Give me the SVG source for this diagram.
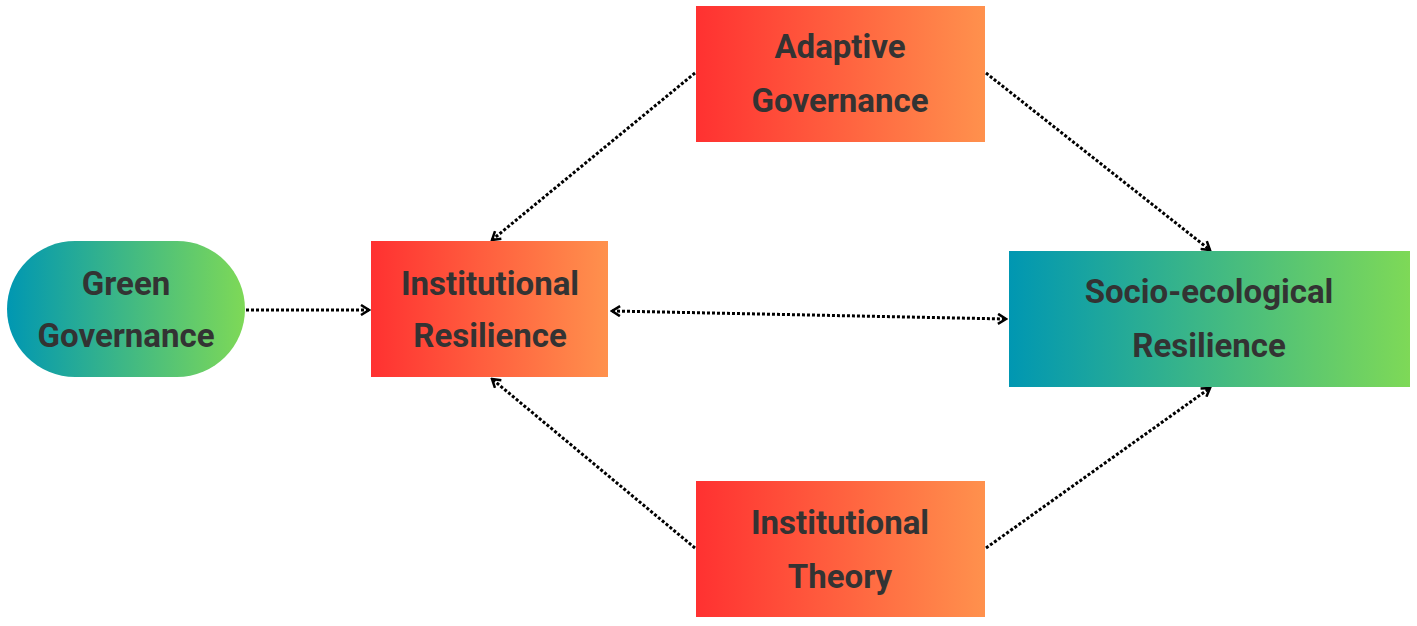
<svg xmlns="http://www.w3.org/2000/svg" width="1417" height="626" viewBox="0 0 1417 626">
<defs>
<linearGradient id="warm" x1="0" y1="0" x2="1" y2="0"><stop offset="0" stop-color="#ff3131"/><stop offset="1" stop-color="#ff914d"/></linearGradient>
<linearGradient id="cool" x1="0" y1="0" x2="1" y2="0"><stop offset="0" stop-color="#0097b2"/><stop offset="1" stop-color="#7ed957"/></linearGradient>
<marker id="ah" viewBox="0 0 12 12" refX="10" refY="6" markerWidth="12" markerHeight="12" markerUnits="userSpaceOnUse" orient="auto-start-reverse"><path d="M2,1 L10,6 L2,11" fill="none" stroke="#000" stroke-width="2.5"/></marker>
<style>
text{font-family:"Liberation Sans Narrow","Roboto","Liberation Sans",sans-serif;font-weight:bold;font-size:33px;fill:#333;text-anchor:middle}
.c{fill:none;stroke:#000;stroke-width:3;stroke-dasharray:3 2;marker-end:url(#ah)}
</style>
</defs>
<g id="connectors">
<line class="c" x1="246" y1="310" x2="369" y2="310"/>
<line class="c" x1="612" y1="311" x2="1006" y2="319" marker-start="url(#ah)"/>
<line class="c" x1="695" y1="73" x2="492" y2="240"/>
<line class="c" x1="986" y1="73" x2="1210" y2="250"/>
<line class="c" x1="695" y1="548" x2="492" y2="379"/>
<line class="c" x1="986" y1="548" x2="1210" y2="388"/>
</g>
<g id="green"><rect x="7" y="241" width="238" height="136" rx="68" fill="url(#cool)"/><text x="126" y="295">Green</text><text x="126" y="347">Governance</text></g>
<g id="instres"><rect x="371" y="241" width="237" height="136" fill="url(#warm)"/><text x="490" y="295">Institutional</text><text x="490" y="347">Resilience</text></g>
<g id="adaptive"><rect x="696" y="6" width="289" height="136" fill="url(#warm)"/><text x="840" y="58">Adaptive</text><text x="840" y="112">Governance</text></g>
<g id="socio"><rect x="1009" y="251" width="401" height="136" fill="url(#cool)"/><text x="1209" y="303">Socio-ecological</text><text x="1209" y="357">Resilience</text></g>
<g id="theory"><rect x="696" y="481" width="289" height="136" fill="url(#warm)"/><text x="840" y="534">Institutional</text><text x="840" y="588">Theory</text></g>
</svg>
